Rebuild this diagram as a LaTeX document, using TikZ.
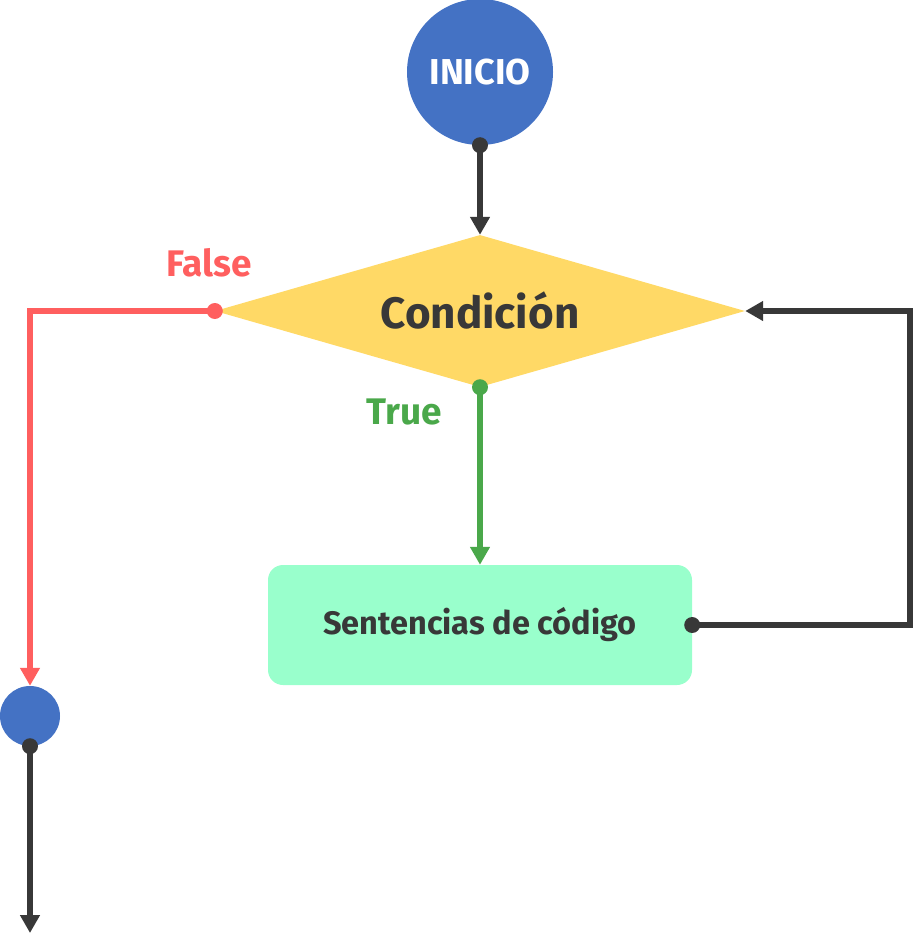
\documentclass[tikz,border=0pt]{standalone}
\usepackage{fontspec}
\setmainfont{Fira Sans}
\usetikzlibrary{positioning,arrows.meta,shapes.geometric}
\definecolor{flowblue}{HTML}{4472C4}
\definecolor{flowgold}{HTML}{FFD966}
\definecolor{flowmint}{HTML}{99FFCC}
\definecolor{flowred}{HTML}{FF5F5F}
\definecolor{flowgreen}{HTML}{4AA84A}
\definecolor{flowdark}{HTML}{383838}
\tikzset{
  link/.style={line width=6pt, -{Triangle[length=18pt,width=19pt]}},
  dot/.style={circle, fill, inner sep=0pt, minimum size=16pt},
}

\begin{document}
\begin{tikzpicture}[x=1pt, y=-1pt, every node/.style={font=\bfseries}]
  \useasboundingbox (0,0) rectangle (914,952);
  % nodes
  \node[circle, fill=flowblue, minimum size=146pt, inner sep=0pt, text=white,
        font=\fontsize{36}{38}\selectfont\bfseries] (inicio) at (480,72) {INICIO};
  \node[diamond, aspect=3.5, fill=flowgold, minimum width=530pt, minimum height=152pt, inner sep=0pt,
        text=flowdark, font=\fontsize{44}{46}\selectfont\bfseries] (cond) at (480,311) {Condición};
  \node[rectangle, rounded corners=15pt, fill=flowmint, minimum width=424pt, minimum height=120pt,
        text=flowdark, font=\fontsize{32.5}{34}\selectfont\bfseries] (body) at (480,625) {Sentencias de código};
  \node[circle, fill=flowblue, minimum size=60pt, inner sep=0pt] (fin) at (30,716) {};
  \coordinate (salida) at (30,933);
  % labels
  \node[text=flowred, font=\fontsize{37}{39}\selectfont\bfseries] (falsetxt) at (209,263) {False};
  \node[text=flowgreen, font=\fontsize{37}{39}\selectfont\bfseries] (truetxt) at (404,412) {True};
  % connectors
  \draw[link, flowdark] (inicio.south) -- (cond.north);
  \draw[link, flowgreen] (cond.south) -- (body.north);
  \draw[link, flowred] (cond.west) -| (fin.north);
  \draw[link, flowdark] (body.east) -- ++(218,0) |- (cond.east);
  \draw[link, flowdark] (fin.south) -- (salida);
  % dots
  \node[dot, flowdark] at (inicio.south) {};
  \node[dot, flowgreen] at (cond.south) {};
  \node[dot, flowred] at (cond.west) {};
  \node[dot, flowdark] at (body.east) {};
  \node[dot, flowdark] at (fin.south) {};
\end{tikzpicture}
\end{document}
